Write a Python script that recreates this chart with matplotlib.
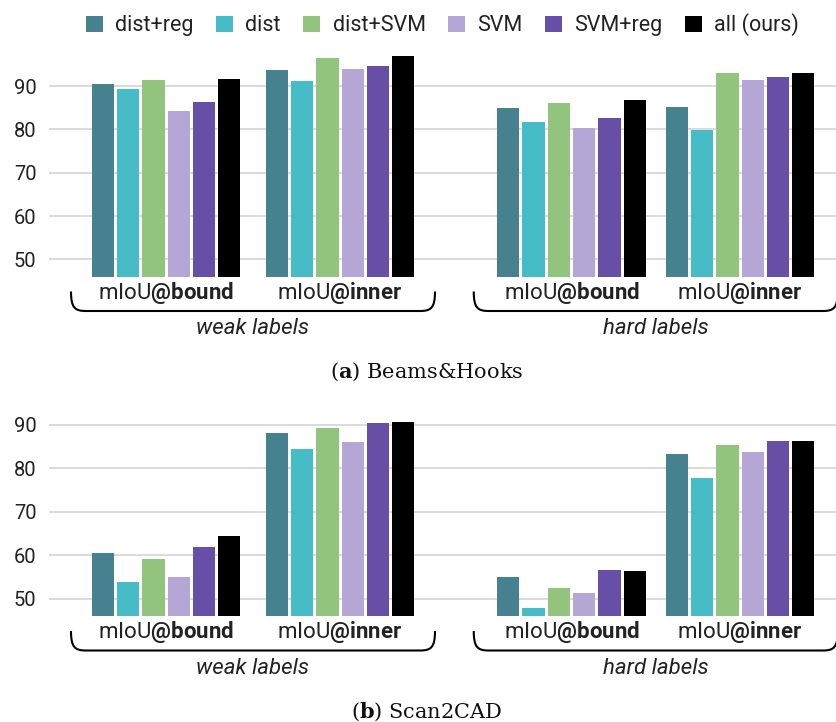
import matplotlib
matplotlib.use("Agg")
import matplotlib.pyplot as plt
import numpy as np
from matplotlib.path import Path
from matplotlib.patches import PathPatch

methods = ["dist+reg", "dist", "dist+SVM", "SVM", "SVM+reg", "all (ours)"]
colors = ["#45818e", "#46bdc6", "#93c47d", "#b4a7d6", "#674ea7", "#000000"]
metric_labels = [r"mIoU$\mathbf{@bound}$", r"mIoU$\mathbf{@inner}$"] * 2
settings = ["weak labels", "hard labels"]
captions = [r"($\mathsf{a}$) Beams&Hooks", r"($\mathsf{b}$) Scan2CAD"]
yticks = [50, 60, 70, 80, 90]

# rows: weak/bound, weak/inner, hard/bound, hard/inner ; columns follow `methods`
beams_hooks = np.array([
    [90.4, 89.4, 91.4, 84.3, 86.3, 91.7],
    [93.7, 91.1, 96.5, 94.0, 94.6, 96.9],
    [84.9, 81.7, 86.2, 80.4, 82.7, 86.9],
    [85.2, 79.8, 93.1, 91.5, 92.1, 93.1],
])
scan2cad = np.array([
    [60.5, 53.7, 59.2, 54.9, 61.8, 64.4],
    [88.1, 84.3, 89.1, 85.9, 90.4, 90.7],
    [54.9, 47.9, 52.4, 51.2, 56.6, 56.3],
    [83.3, 77.8, 85.2, 83.7, 86.2, 86.2],
])

plt.rcParams["font.family"] = ["Roboto", "DejaVu Sans"]
plt.rcParams["mathtext.fontset"] = "custom"
plt.rcParams["mathtext.rm"] = "Roboto"
plt.rcParams["mathtext.bf"] = "Roboto:bold"
plt.rcParams["mathtext.sf"] = "DejaVu Serif:bold"

W, H = 836, 722


def fx(x):
    return x / W


def fy(y):
    return 1 - y / H


fig = plt.figure(figsize=(W / 100, H / 100), dpi=100)

group_x = np.array([166, 340, 571.5, 740])
step, width = 25.3, 22.3
offsets = (np.arange(len(methods)) - (len(methods) - 1) / 2) * step

# data, caption, axes bottom px, axes top px, ylim, label row px, caption px
panels = [
    (beams_hooks, captions[0], 276.7, 51.5, (46, 98), 292.5, 372),
    (scan2cad, captions[1], 616, 411.5, (46, 93), 632, 712),
]


def brace(x0, x1, yt, yb):
    r = 15
    verts = [
        (x0, yt), (x0, yb - 3), (x0 + 4, yb), (x0 + r, yb),
        (x1 - r, yb),
        (x1 - 4, yb), (x1, yb - 3), (x1, yt),
    ]
    codes = [Path.MOVETO, Path.CURVE4, Path.CURVE4, Path.CURVE4,
             Path.LINETO, Path.CURVE4, Path.CURVE4, Path.CURVE4]
    verts = [(fx(a), fy(b)) for a, b in verts]
    fig.add_artist(PathPatch(Path(verts, codes), fill=False, lw=1.5,
                             edgecolor="black", transform=fig.transFigure))


axes = []
for data, cap, bot, top, ylim, ylab, ycap in panels:
    ax = fig.add_axes([fx(49), fy(bot), fx(836) - fx(49), (bot - top) / H])
    axes.append(ax)
    for j, m in enumerate(methods):
        ax.bar(group_x + offsets[j], data[:, j], width=width,
               color=colors[j], label=m, zorder=3)
    ax.set_xlim(49, 836)
    ax.set_ylim(*ylim)
    ax.set_yticks(yticks)
    ax.set_xticks([])
    ax.tick_params(axis="y", length=0, pad=9, labelsize=14.5, labelcolor="#222222")
    ax.grid(axis="y", color="#d4d4d4", lw=1.2, zorder=0)
    for s in ax.spines.values():
        s.set_visible(False)

    for gx, lab in zip(group_x, metric_labels):
        fig.text(fx(gx), fy(ylab), lab, ha="center", va="center",
                 fontsize=16, color="#222222")
    for k, st in enumerate(settings):
        cx = (group_x[2 * k] + group_x[2 * k + 1]) / 2
        brace(cx - 182, cx + 182, ylab - 1, ylab + 18.5)
        fig.text(fx(cx), fy(ylab + 36.5), st, ha="center", va="center",
                 fontsize=16, style="italic", color="#222222")
    fig.text(fx(427), fy(ycap), cap, ha="center", va="center",
             fontsize=15, family="DejaVu Serif", color="#111111")

handles, labels = axes[0].get_legend_handles_labels()
fig.legend(handles, labels, loc="center", bbox_to_anchor=(fx(442.5), fy(25)),
           ncol=6, frameon=False, fontsize=15.5, handlelength=0.79, handleheight=0.79,
           handletextpad=0.56, columnspacing=1.05, borderpad=0, labelcolor="#222222")

fig.savefig("out.png", dpi=100)
